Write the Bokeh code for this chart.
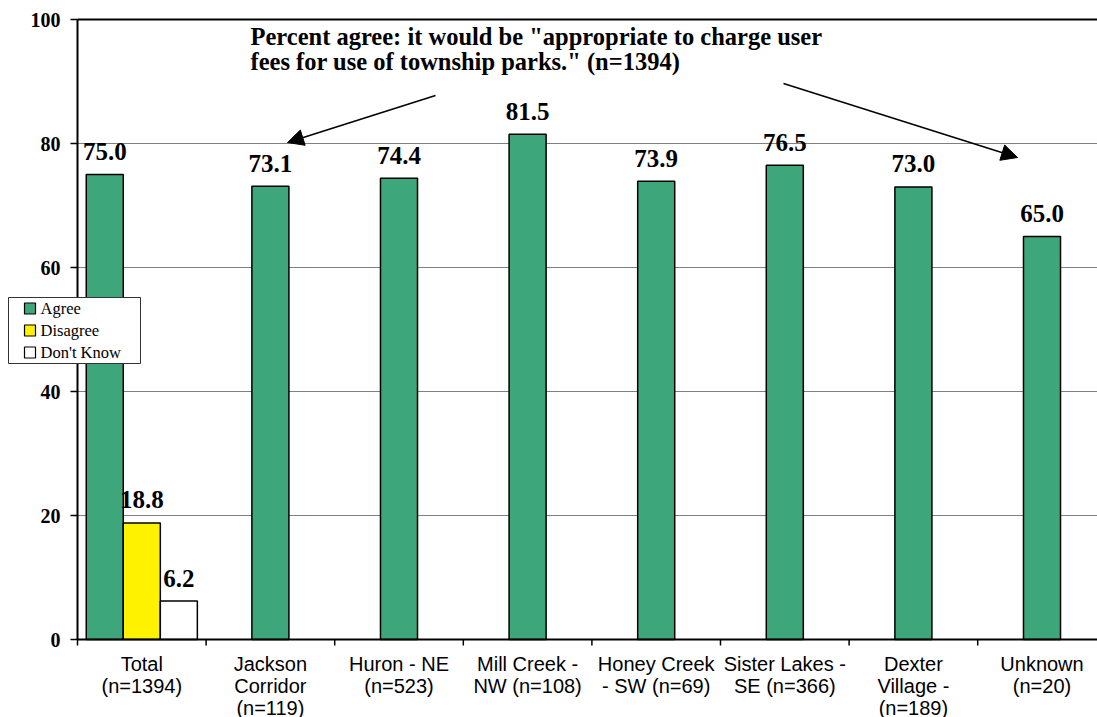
from bokeh.plotting import figure
from bokeh.models import (Range1d, ColumnDataSource, Arrow, NormalHead)
from bokeh.core.properties import value
from bokeh.embed import file_html
from bokeh.resources import INLINE

categories = ["Total\n(n=1394)", "Jackson\nCorridor\n(n=119)", "Huron - NE\n(n=523)",
              "Mill Creek -\nNW (n=108)", "Honey Creek\n- SW (n=69)",
              "Sister Lakes -\nSE (n=366)", "Dexter\nVillage -\n(n=189)", "Unknown\n(n=20)"]
agree = [75.0, 73.1, 74.4, 81.5, 73.9, 76.5, 73.0, 65.0]
disagree = [18.8]
dont_know = [6.2]
series_names = ["Agree", "Disagree", "Don't Know"]
y_ticks = [0, 20, 40, 60, 80, 100]
grid_values = [20, 40, 60, 80]
note_lines = ['Percent agree: it would be "appropriate to charge user',
              'fees for use of township parks." (n=1394)']

GREEN = "#3da67a"
YELLOW = "#fff200"
series_colors = [GREEN, YELLOW, "white"]
BW = 0.288
SERIF = value("Liberation Serif")
SANS = value("Liberation Sans")

W, H = 1097, 717
PX_X = 128.6          # pixels per category
PX_Y = 6.2            # pixels per percentage point
X0 = -77 / PX_X
X1 = X0 + W / PX_X
Y0 = -(H - 639) / PX_Y
Y1 = 100 + 19 / PX_Y


def sx(px):  # page pixel -> data x
    return X0 + px / PX_X


def sy(py):  # page pixel -> data y
    return (639 - py) / PX_Y


n = len(categories)
centers = [i + 0.5 for i in range(n)]
agree_x = [centers[0] - BW] + centers[1:]
dis_x = [centers[0]]
dk_x = [centers[0] + BW]

p = figure(width=W, height=H, x_range=Range1d(X0, X1), y_range=Range1d(Y0, Y1),
           output_backend="svg", toolbar_location=None,
           min_border=0, x_axis_type=None, y_axis_type=None)
p.outline_line_color = None
p.xgrid.grid_line_color = None
p.ygrid.grid_line_color = None
p.background_fill_color = "white"
p.border_fill_color = "white"

# gridlines
p.segment(x0=[0] * len(grid_values), y0=grid_values, x1=[X1] * len(grid_values), y1=grid_values,
          line_color="#808080", line_width=1)

src_a = ColumnDataSource(dict(x=agree_x, top=agree, lab=[f"{v:.1f}" for v in agree]))
src_d = ColumnDataSource(dict(x=dis_x, top=disagree, lab=[f"{v:.1f}" for v in disagree]))
src_k = ColumnDataSource(dict(x=dk_x, top=dont_know, lab=[f"{v:.1f}" for v in dont_know]))

for s, c in zip((src_a, src_d, src_k), series_colors):
    p.vbar(x="x", top="top", width=BW, source=s, fill_color=c, line_color="black", line_width=1.5)

for s in (src_a, src_d, src_k):
    p.text(x="x", y="top", text="lab", source=s, text_align="center", text_baseline="alphabetic",
           y_offset=-23, text_font=SERIF, text_font_style="bold", text_font_size="25px",
           text_color="black")

# axes drawn through the scales
p.segment(x0=[0, 0, 0], y0=[0, 0, 100], x1=[0, X1, X1], y1=[100, 0, 100],
          line_color="black", line_width=2)
p.segment(x0=[0] * len(y_ticks), y0=y_ticks, x1=[-7 / PX_X] * len(y_ticks), y1=y_ticks,
          line_color="black", line_width=1.5)
p.text(x=[0] * len(y_ticks), y=y_ticks, text=[str(t) for t in y_ticks], x_offset=-17,
       text_align="right", text_baseline="middle", text_font=SERIF, text_font_style="bold",
       text_font_size="20px", text_color="black")
ticks_x = list(range(0, n))
p.segment(x0=ticks_x, y0=[0] * len(ticks_x), x1=ticks_x, y1=[-6 / PX_Y] * len(ticks_x),
          line_color="black", line_width=1.5)
p.text(x=centers, y=[0] * n, text=categories, y_offset=13, text_align="center",
       text_baseline="top", text_font=SANS, text_font_size="20px", text_line_height=1.0,
       text_color="black")

# annotation text and arrows
p.text(x=[sx(250)] * 2, y=[sy(36), sy(61)], text=note_lines, text_align="left",
       text_baseline="alphabetic", text_font=SERIF, text_font_style="bold",
       text_font_size="24.5px", text_color="black")
p.add_layout(Arrow(end=NormalHead(size=16, fill_color="black", line_color="black"),
                   x_start=sx(435), y_start=sy(95), x_end=sx(287), y_end=sy(142),
                   line_color="black", line_width=1.5))
p.add_layout(Arrow(end=NormalHead(size=16, fill_color="black", line_color="black"),
                   x_start=sx(783), y_start=sy(83), x_end=sx(1017), y_end=sy(157),
                   line_color="black", line_width=1.5))

# legend box
p.quad(left=[sx(8)], right=[sx(140)], top=[sy(297)], bottom=[sy(363)],
       fill_color="white", line_color="#333333", line_width=1)
row_y = [sy(308), sy(330), sy(352)]
p.rect(x=[sx(29.5)] * 3, y=row_y, width=11, height=11, width_units="screen",
       height_units="screen", fill_color=series_colors, line_color="black", line_width=1.2)
p.text(x=[sx(40)] * 3, y=row_y, text=series_names, text_align="left", text_baseline="middle",
       text_font=SERIF, text_font_size="16.5px", text_color="black")

open("out.html", "w").write(file_html(p, INLINE))
